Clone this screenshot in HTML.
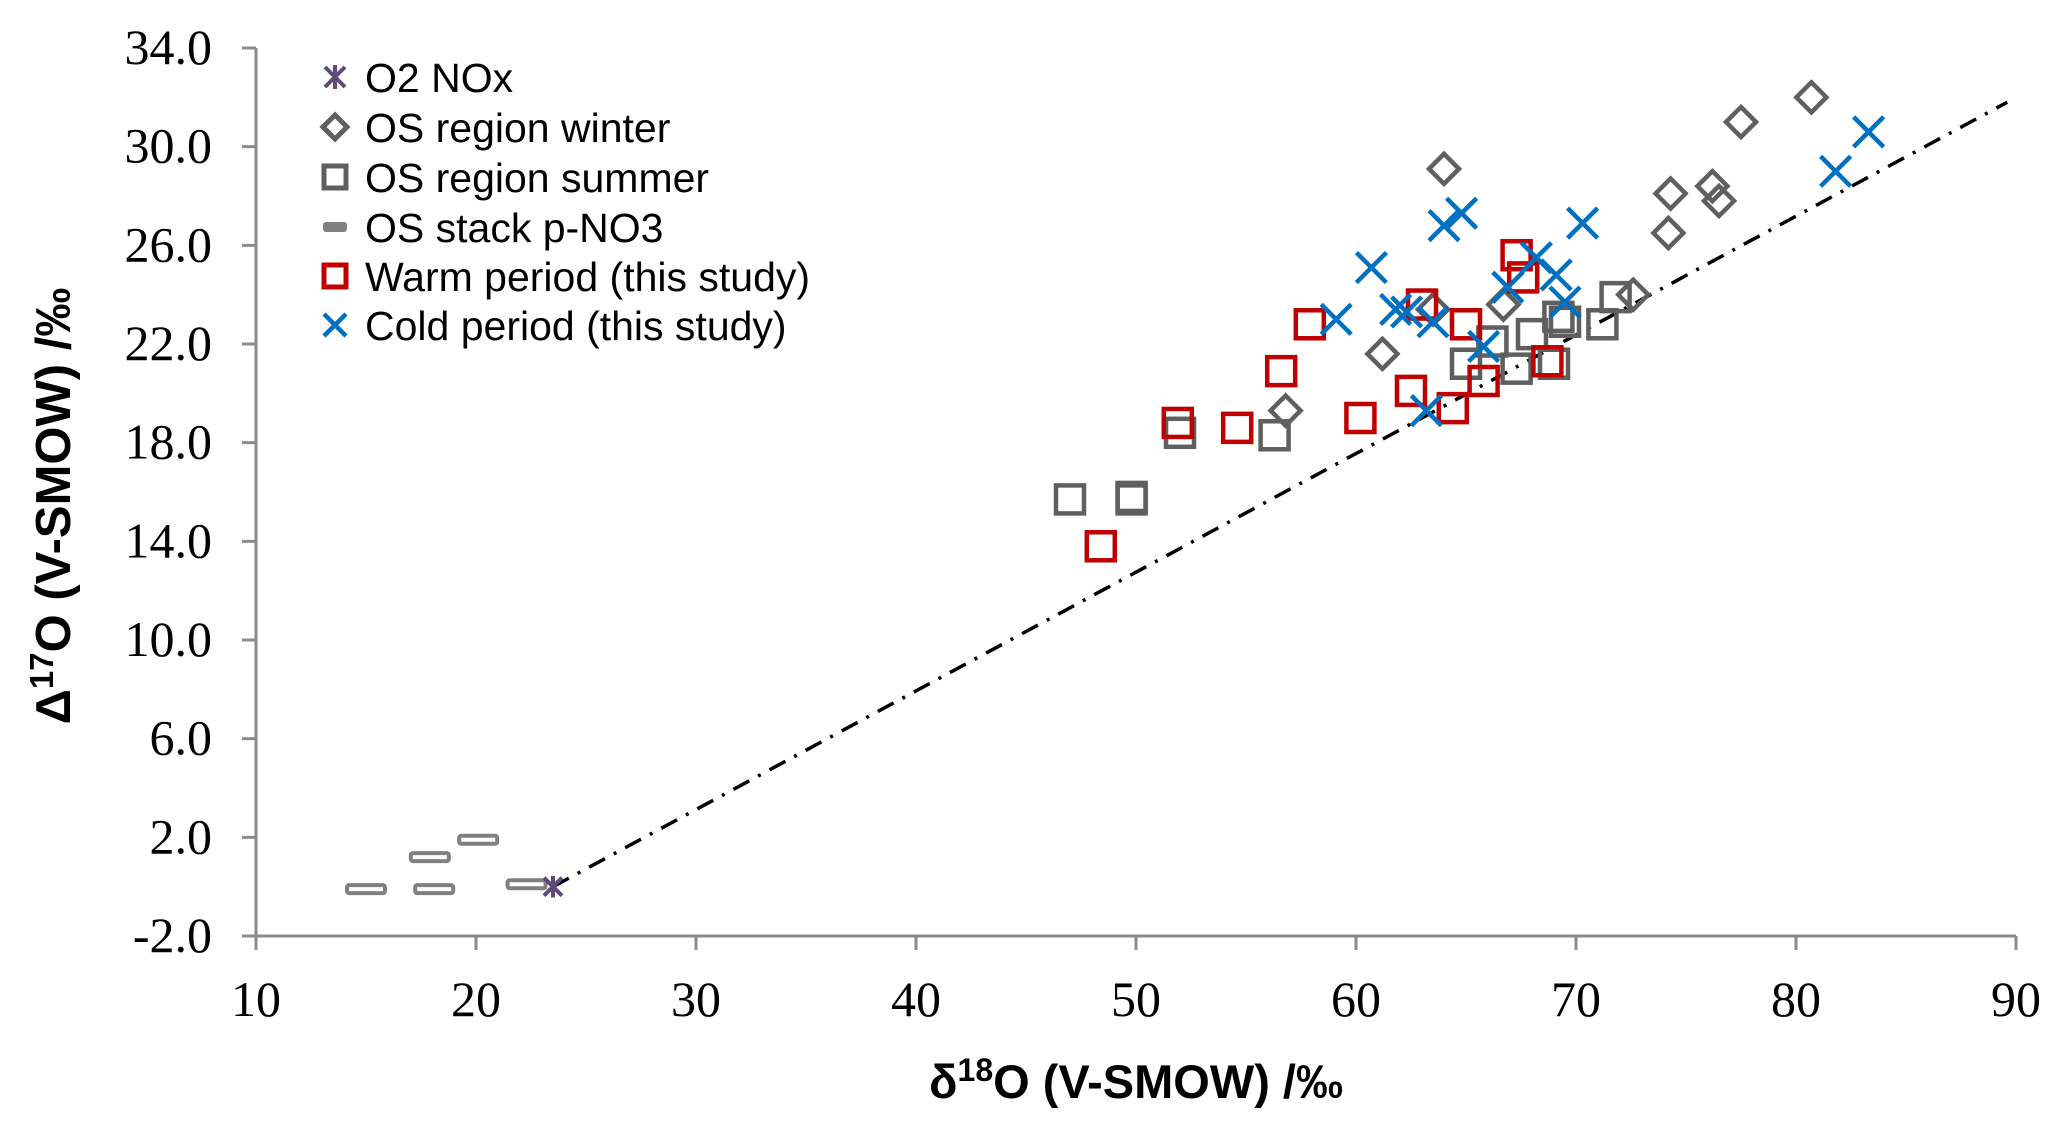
<!DOCTYPE html>
<html><head><meta charset="utf-8">
<style>
html,body{margin:0;padding:0;background:#fff;}
svg{display:block;}
</style></head>
<body>
<svg id="chart" width="2066" height="1131" viewBox="0 0 2066 1131" xmlns="http://www.w3.org/2000/svg">
<g id="axes"></g>
<g id="marks"></g>
<g id="legend"></g>
<text x="1136" y="1098" text-anchor="middle" font-family="Liberation Sans, sans-serif" font-weight="bold" font-size="47">δ<tspan font-size="32" dy="-17">18</tspan><tspan dy="17">O (V-SMOW) /‰</tspan></text>
<text transform="translate(70,506) rotate(-90)" text-anchor="middle" font-family="Liberation Sans, sans-serif" font-weight="bold" font-size="49">Δ<tspan font-size="33" dy="-17">17</tspan><tspan dy="17">O (V-SMOW) /‰</tspan></text>
</svg>
<script>
const xTicks = [10,20,30,40,50,60,70,80,90];
const yTicks = [-2,2,6,10,14,18,22,26,30,34];
const o2NoxX = [23.5];
const o2NoxY = [0.0];
const stackX = [15.0,18.1,17.9,20.1,22.3];
const stackY = [-0.1,-0.1,1.2,1.9,0.1];
const winterX = [64.0,61.2,56.8,66.7,63.5,72.6,74.3,74.2,76.2,76.5,77.5,80.7];
const winterY = [29.1,21.6,19.3,23.6,23.4,24.0,28.1,26.5,28.4,27.8,31.0,32.0];
const summerX = [47.0,49.8,49.8,52.0,56.3,65.0,66.2,67.3,68.0,69.2,69.5,69.0,71.2,71.8];
const summerY = [15.7,15.8,15.7,18.4,18.3,21.2,22.1,21.0,22.4,23.1,22.9,21.2,22.8,23.9];
const warmX = [48.4,51.9,54.6,56.6,57.9,60.2,62.5,63.0,64.4,65.0,65.8,67.3,67.6,68.7];
const warmY = [13.8,18.8,18.6,20.9,22.8,19.0,20.1,23.6,19.4,22.8,20.5,25.6,24.7,21.3];
const coldX = [59.1,60.7,61.8,62.3,63.2,63.5,64.0,64.8,65.8,66.9,68.2,69.1,69.5,70.3,81.8,83.3];
const coldY = [23.0,25.1,23.4,23.3,19.3,22.9,26.8,27.3,21.9,24.3,25.5,24.8,23.7,26.9,29.0,30.6];
const lineX = [23.5,89.6];
const lineY = [0.0,31.8];

const NS='http://www.w3.org/2000/svg';
function sx(v){return 256+(v-10)*22.0;}
function sy(v){return 48+(34-v)*24.667;}
function mk(tag,attrs,parent){const e=document.createElementNS(NS,tag);for(const k in attrs)e.setAttribute(k,attrs[k]);parent.appendChild(e);return e;}
const axes=document.getElementById('axes');
const marks=document.getElementById('marks');
const legend=document.getElementById('legend');
const AX='#898989';
let a=mk('line',{x1:sx(10),y1:sy(34),x2:sx(10),y2:sy(-2),stroke:AX,'stroke-width':3},axes);


a=mk('line',{x1:sx(10),y1:sy(-2),x2:sx(90),y2:sy(-2),stroke:AX,'stroke-width':3},axes);


yTicks.forEach(t=>{
  const l=mk('line',{x1:sx(10)-14,y1:sy(t),x2:sx(10),y2:sy(t),stroke:AX,'stroke-width':3},axes);
  
  
  const tx=mk('text',{x:212,y:sy(t)+16,'text-anchor':'end','font-family':'Liberation Serif, serif','font-size':50},axes);
  tx.textContent=t.toFixed(1);
  
  
});
xTicks.forEach(t=>{
  const l=mk('line',{x1:sx(t),y1:sy(-2),x2:sx(t),y2:sy(-2)+14,stroke:AX,'stroke-width':3},axes);
  
  
  const tx=mk('text',{x:sx(t),y:1016,'text-anchor':'middle','font-family':'Liberation Serif, serif','font-size':50},axes);
  tx.textContent=String(t);
  
  
});
const ln=mk('line',{x1:sx(lineX[0]),y1:sy(lineY[0]),x2:sx(lineX[1]),y2:sy(lineY[1]),stroke:'#000','stroke-width':3.5,'stroke-dasharray':'18,10,3,10'},marks);



function dash(cx,cy,g,legendMode){
  return legendMode? mk('rect',{x:cx-12,y:cy-5,width:24,height:10,rx:3,fill:'#808080'},g)
   : mk('rect',{x:cx-19,y:cy-4,width:38,height:8,rx:2,fill:'#fff',stroke:'#808080','stroke-width':4},g);
}
function square(cx,cy,col,g,s,w){return mk('rect',{x:cx-s/2,y:cy-s/2,width:s,height:s,fill:'none',stroke:col,'stroke-width':w||4.5},g);}
function diamond(cx,cy,g,r,w){return mk('polygon',{points:`${cx},${cy-r} ${cx+r},${cy} ${cx},${cy+r} ${cx-r},${cy}`,fill:'none',stroke:'#5f5f5f','stroke-width':w||4.5},g);}
function cross(cx,cy,g,r,w){return mk('path',{d:`M${cx-r},${cy-r}L${cx+r},${cy+r}M${cx-r},${cy+r}L${cx+r},${cy-r}`,stroke:'#0070c0','stroke-width':w,fill:'none'},g);}
function aster(cx,cy,g,r){return mk('path',{d:`M${cx-r},${cy-r}L${cx+r},${cy+r}M${cx-r},${cy+r}L${cx+r},${cy-r}M${cx},${cy-r*1.2}L${cx},${cy+r*1.2}`,stroke:'#604a7b','stroke-width':4,fill:'none'},g);}

stackX.forEach((v,i)=>{const e=dash(sx(v),sy(stackY[i]),marks,false);
  
  });
summerX.forEach((v,i)=>{const e=square(sx(v),sy(summerY[i]),'#5f5f5f',marks,28);
  
  });
winterX.forEach((v,i)=>{const e=diamond(sx(v),sy(winterY[i]),marks,15);
  
  });
warmX.forEach((v,i)=>{const e=square(sx(v),sy(warmY[i]),'#c00000',marks,28);
  
  });
coldX.forEach((v,i)=>{const e=cross(sx(v),sy(coldY[i]),marks,15,4.5);
  
  });
o2NoxX.forEach((v,i)=>{const e=aster(sx(v),sy(o2NoxY[i]),marks,9);
  
  });

const labels=['O2 NOx','OS region winter','OS region summer','OS stack p-NO3','Warm period (this study)','Cold period (this study)'];
const rows=[77,127,177,227,276,325];
const LX=335;
labels.forEach((t,i)=>{
  const y=rows[i];let e;
  if(i===0)e=aster(LX,y,legend,10);
  else if(i===1)e=diamond(LX,y,legend,12,5);
  else if(i===2)e=square(LX,y,'#5f5f5f',legend,22,5);
  else if(i===3)e=dash(LX,y,legend,true);
  else if(i===4)e=square(LX,y,'#c00000',legend,22,5);
  else e=cross(LX,y,legend,11,4.5);
  
  
  const tx=mk('text',{x:365,y:y+15,'font-family':'Liberation Sans, sans-serif','font-size':41,fill:'#000'},legend);
  tx.textContent=t;
  
  
});
</script>
</body></html>
